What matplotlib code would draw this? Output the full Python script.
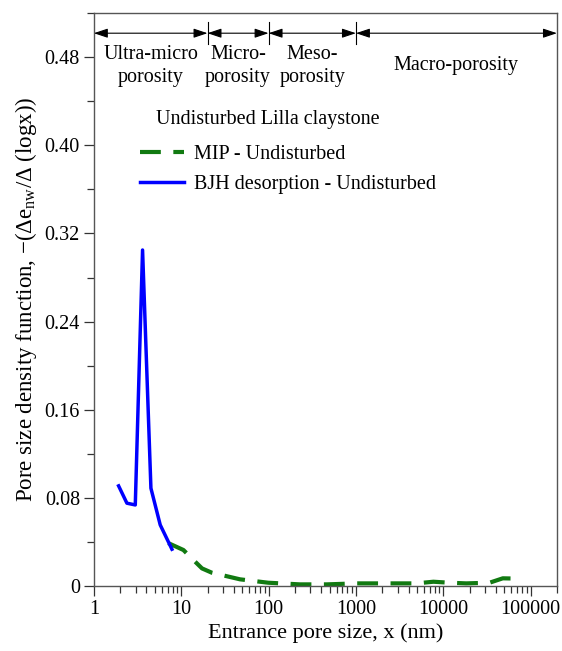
import matplotlib.pyplot as plt
from matplotlib.lines import Line2D
from matplotlib.ticker import FixedLocator, FuncFormatter, NullFormatter
import matplotlib.transforms as mtransforms
import numpy as np

plt.rcParams["font.family"] = ["Liberation Serif", "DejaVu Serif"]
plt.rcParams["mathtext.fontset"] = "custom"
plt.rcParams["mathtext.rm"] = "Liberation Serif"
plt.rcParams["mathtext.it"] = "Liberation Serif"

# BJH desorption - Undisturbed
bjh_x = [1.92, 2.39, 2.98, 3.61, 4.5, 5.75, 7.83]
bjh_y = [0.0909, 0.0752, 0.0736, 0.305, 0.0888, 0.0555, 0.0334]

# MIP - Undisturbed
mip_x = [7.1, 10.6, 13.8, 17.3, 22.4, 47, 99, 228, 464, 1010, 2240, 4900,
         7700, 11800, 18300, 33800, 48000, 75000]
mip_y = [0.039, 0.0327, 0.0236, 0.016, 0.0121, 0.0061, 0.003, 0.0015, 0.0015,
         0.0024, 0.0024, 0.0024, 0.0039, 0.003, 0.0024, 0.003, 0.007, 0.0067]

# porosity classes (nm)
class_edges = [1, 20, 100, 1000, 200000]
class_labels = ["Ultra-micro\nporosity", "Micro-\nporosity", "Meso-\nporosity",
                "Macro-porosity"]

fig = plt.figure(figsize=(5.62, 6.51), dpi=100)
ax = fig.add_axes([0.167, 0.0998, 0.824, 0.880])

green = "#117a11"
blue = "#0000ff"
ax.plot(mip_x, mip_y, color=green, lw=3.0, dashes=(5, 3), solid_capstyle="butt")
ax.plot(bjh_x, bjh_y, color=blue, lw=2.5)

ax.set_xscale("log")
ax.set_xlim(1, 200000)
ax.set_ylim(0, 0.52)

ax.xaxis.set_major_locator(FixedLocator([1, 10, 100, 1000, 10000, 100000]))
ax.xaxis.set_major_formatter(FuncFormatter(lambda v, p: f"{v:.0f}"))
ax.xaxis.set_minor_formatter(NullFormatter())
ax.yaxis.set_major_locator(FixedLocator(np.arange(0, 0.49, 0.08)))
ax.yaxis.set_minor_locator(FixedLocator(np.arange(0.04, 0.53, 0.08)))
ax.yaxis.set_major_formatter(
    FuncFormatter(lambda v, p: "0" if abs(v) < 1e-9 else f"{v:.2f}"))

ax.tick_params(which="major", length=7, width=0.9, labelsize=14.5, color="#333333",
               pad=3)
ax.tick_params(which="minor", length=5, width=0.9, color="#333333")
for s in ax.spines.values():
    s.set_color("#555555")
    s.set_linewidth(1.0)

ax.set_xlabel("Entrance pore size, x (nm)", fontsize=16, labelpad=3)
ax.set_ylabel(r"Pore size density function, $-$($\Delta$e$_{\mathrm{nw}}$/$\Delta$ (logx))",
              fontsize=16.5, labelpad=4)

# porosity class arrows
trans = mtransforms.blended_transform_factory(ax.transData, ax.transAxes)
for i in range(len(class_labels)):
    x0, x1 = class_edges[i], class_edges[i + 1]
    ax.annotate("", xy=(x1, 0.965), xytext=(x0, 0.965), xycoords=trans,
                textcoords=trans,
                arrowprops=dict(arrowstyle="<|-|>,head_length=0.6,head_width=0.2",
                                color="black", lw=0.8,
                                mutation_scale=14, shrinkA=0, shrinkB=0))
    xc = np.sqrt(x0 * x1)
    ax.text(xc, 0.908, class_labels[i], transform=trans, ha="center", va="center",
            fontsize=14.5, linespacing=1.25)
for x in class_edges[1:-1]:
    ax.plot([x, x], [0.946, 0.984], transform=trans, color="black", lw=0.8)

# legend
ax.text(0.135, 0.815, "Undisturbed Lilla claystone", transform=ax.transAxes,
        fontsize=14.5, va="center", ha="left")
handles = [Line2D([], [], color=green, lw=3.0, dashes=(5, 3)),
           Line2D([], [], color=blue, lw=2.5)]
ax.legend(handles, ["MIP - Undisturbed", "BJH desorption - Undisturbed"],
          loc="upper left", bbox_to_anchor=(0.1, 0.77), frameon=False,
          fontsize=14.5, handlelength=2.2, handletextpad=0.45, labelspacing=0.55,
          borderaxespad=0, borderpad=0)

fig.savefig("out.png", dpi=100)
